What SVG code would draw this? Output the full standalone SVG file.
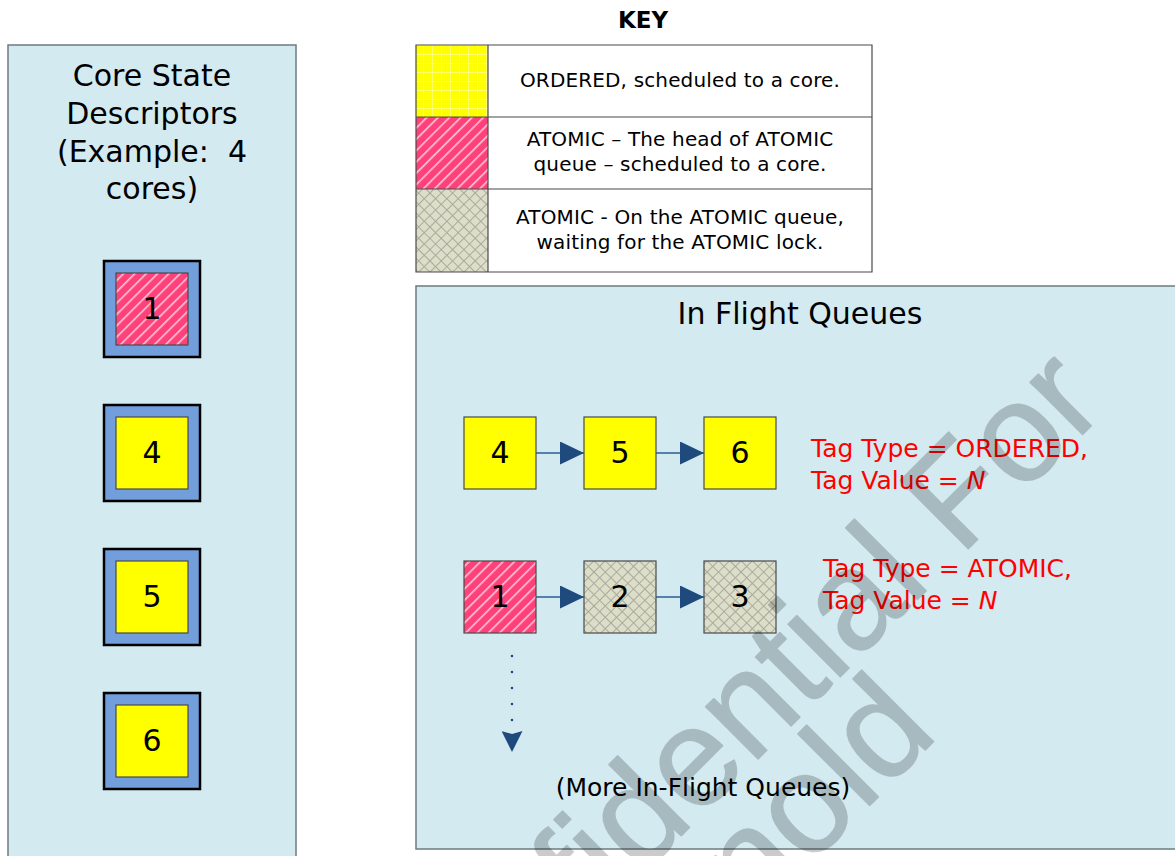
<svg xmlns="http://www.w3.org/2000/svg" width="1175" height="856" viewBox="0 0 1175 856">
  <style>
    .txt { font-family: "DejaVu Sans", "Liberation Sans", sans-serif; fill: #000; }
    .mid { text-anchor: middle; }
    .head { font-size: 30px; }
    .key { font-size: 20px; letter-spacing: 0.15px; }
    .num { font-size: 30px; }
    .tag { font-size: 25px; fill: #FF0000; }
    .more { font-size: 25px; }
    .panel { fill: #D2EAF0; stroke: #6E7B80; stroke-width: 1.5; }
    .core { fill: #729EDB; stroke: #000; stroke-width: 2.5; }
    .cell { stroke: #4A4A4A; stroke-width: 1.2; }
    .link { stroke: #2E5C92; stroke-width: 1.4; fill: none; marker-end: url(#arrow); }
    .grid { fill: none; stroke: #4A4A4A; stroke-width: 1.2; }
  </style>
  <defs>
    <!-- ORDERED: plain yellow with a faint grid -->
    <pattern id="ordered" width="9" height="9" patternUnits="userSpaceOnUse">
      <rect width="9" height="9" fill="#FFFF00"/>
      <path d="M0 0.5H9M0.5 0V9" stroke="#FFFF6A" stroke-width="1"/>
    </pattern>
    <!-- ATOMIC head: pink with light diagonal stripes -->
    <pattern id="atomic-head" width="8" height="8" patternUnits="userSpaceOnUse" patternTransform="rotate(45)">
      <rect width="8" height="8" fill="#FF417B"/>
      <rect width="1.6" height="8" fill="#FFC6D6"/>
    </pattern>
    <!-- ATOMIC waiting: beige with a diamond cross-hatch -->
    <pattern id="atomic-wait" width="8" height="8" patternUnits="userSpaceOnUse" patternTransform="rotate(45)">
      <rect width="8" height="8" fill="#DCDEC8"/>
      <path d="M0 0.5H8M0.5 0V8" stroke="#A9AAA0" stroke-width="1"/>
    </pattern>
    <marker id="arrow" markerUnits="userSpaceOnUse" markerWidth="24" markerHeight="23" refX="24" refY="11.5" orient="auto">
      <path d="M0 0L24 11.5L0 23Z" fill="#1F4A7D"/>
    </marker>
    <marker id="arrow-down" markerUnits="userSpaceOnUse" markerWidth="21" markerHeight="21" refX="0" refY="10.5" orient="auto">
      <path d="M0 0L21 10.5L0 21L3 10.5Z" fill="#1F4A7D"/>
    </marker>
  </defs>

  <rect width="1175" height="856" fill="#FFFFFF"/>

  <!-- Core state descriptors panel -->
  <g id="core-panel">
    <rect class="panel" x="8" y="45" width="288" height="830"/>
    <text class="txt head mid" x="152" y="86">Core State</text>
    <text class="txt head mid" x="152" y="124">Descriptors</text>
    <text class="txt head mid" x="152" y="162" xml:space="preserve">(Example:  4</text>
    <text class="txt head mid" x="152" y="199">cores)</text>
  </g>

  <g id="core-1">
    <rect class="core" x="104" y="261" width="96" height="96"/>
    <rect class="cell" x="116" y="273" width="72" height="72" fill="url(#atomic-head)"/>
    <text class="txt num mid" x="152" y="319">1</text>
  </g>
  <g id="core-4">
    <rect class="core" x="104" y="405" width="96" height="96"/>
    <rect class="cell" x="116" y="417" width="72" height="72" fill="#FFFF00"/>
    <text class="txt num mid" x="152" y="463">4</text>
  </g>
  <g id="core-5">
    <rect class="core" x="104" y="549" width="96" height="96"/>
    <rect class="cell" x="116" y="561" width="72" height="72" fill="#FFFF00"/>
    <text class="txt num mid" x="152" y="607">5</text>
  </g>
  <g id="core-6">
    <rect class="core" x="104" y="693" width="96" height="96"/>
    <rect class="cell" x="116" y="705" width="72" height="72" fill="#FFFF00"/>
    <text class="txt num mid" x="152" y="751">6</text>
  </g>

  <!-- Key -->
  <g id="key">
    <text class="txt mid" x="643" y="28" font-size="23" font-weight="bold">KEY</text>
    <rect x="416" y="45" width="456" height="227" fill="#FFFFFF"/>
    <rect x="416" y="45" width="72" height="72" fill="url(#ordered)"/>
    <rect x="416" y="117" width="72" height="72" fill="url(#atomic-head)"/>
    <rect x="416" y="189" width="72" height="83" fill="url(#atomic-wait)"/>
    <path class="grid" d="M416 45H872V272H416ZM488 45V272M416 117H872M416 189H872"/>
    <text class="txt key mid" x="680" y="87">ORDERED, scheduled to a core.</text>
    <text class="txt key mid" x="680" y="146">ATOMIC – The head of ATOMIC</text>
    <text class="txt key mid" x="680" y="171">queue – scheduled to a core.</text>
    <text class="txt key mid" x="680" y="224">ATOMIC - On the ATOMIC queue,</text>
    <text class="txt key mid" x="680" y="249">waiting for the ATOMIC lock.</text>
  </g>

  <!-- In flight queues panel -->
  <g id="queue-panel">
    <rect class="panel" x="416" y="286" width="780" height="563"/>
    <text class="txt head mid" x="800" y="324">In Flight Queues</text>
    <text class="txt more mid" x="703" y="796">(More In-Flight Queues)</text>
  </g>

  <g id="q-4">
    <rect class="cell" x="464" y="417" width="72" height="72" fill="#FFFF00"/>
    <text class="txt num mid" x="500" y="463">4</text>
  </g>
  <g id="q-5">
    <rect class="cell" x="584" y="417" width="72" height="72" fill="#FFFF00"/>
    <text class="txt num mid" x="620" y="463">5</text>
  </g>
  <g id="q-6">
    <rect class="cell" x="704" y="417" width="72" height="72" fill="#FFFF00"/>
    <text class="txt num mid" x="740" y="463">6</text>
  </g>
  <g id="q-1">
    <rect class="cell" x="464" y="561" width="72" height="72" fill="url(#atomic-head)"/>
    <text class="txt num mid" x="500" y="607">1</text>
  </g>
  <g id="q-2">
    <rect class="cell" x="584" y="561" width="72" height="72" fill="url(#atomic-wait)"/>
    <text class="txt num mid" x="620" y="607">2</text>
  </g>
  <g id="q-3">
    <rect class="cell" x="704" y="561" width="72" height="72" fill="url(#atomic-wait)"/>
    <text class="txt num mid" x="740" y="607">3</text>
  </g>

  <g id="tag-ordered">
    <text class="txt tag" x="811" y="457">Tag Type = ORDERED,</text>
    <text class="txt tag" x="811" y="489">Tag Value = <tspan font-style="italic">N</tspan></text>
  </g>
  <g id="tag-atomic">
    <text class="txt tag" x="823" y="577">Tag Type = ATOMIC,</text>
    <text class="txt tag" x="823" y="609">Tag Value = <tspan font-style="italic">N</tspan></text>
  </g>

  <!-- Connectors -->
  <g id="connectors">
    <path class="link" d="M536 453H584"/>
    <path class="link" d="M656 453H704"/>
    <path class="link" d="M536 597H584"/>
    <path class="link" d="M656 597H704"/>
    <path d="M512 656V731" fill="none" stroke="#1F4A7D" stroke-width="2.6" stroke-linecap="round" stroke-dasharray="0 16" marker-end="url(#arrow-down)"/>
  </g>

  <!-- Watermark -->
  <g id="watermark" opacity="0.2" font-family="'Liberation Sans', Arial, sans-serif" font-size="140" fill="#000" stroke="#000" stroke-width="1.5" stroke-linejoin="round">
    <g transform="translate(410,1107) rotate(-45)">
      <text x="0" y="0">Confidential For</text>
      <text x="373" y="112">nold</text>
    </g>
  </g>
</svg>
